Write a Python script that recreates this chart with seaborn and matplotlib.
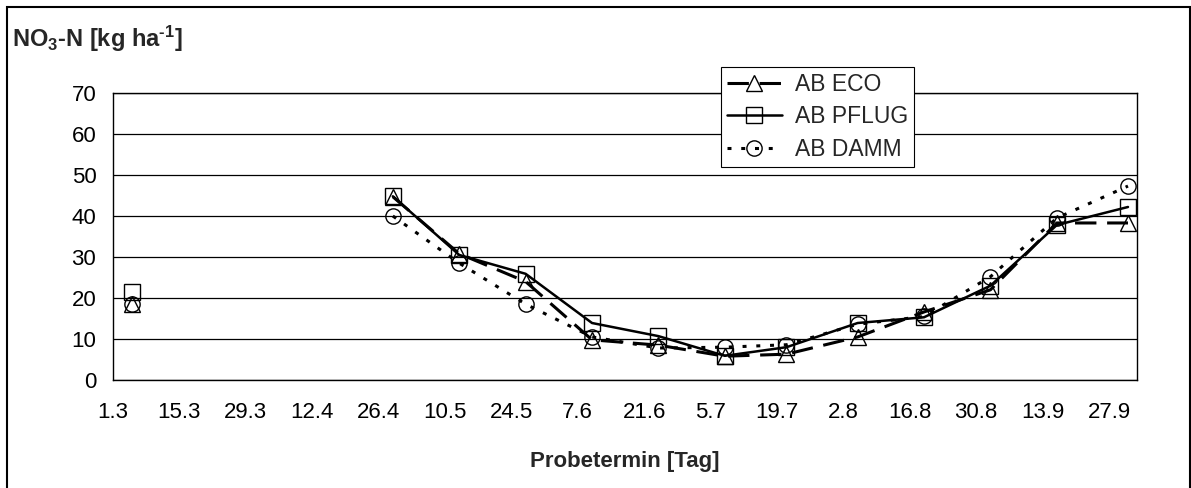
import pandas as pd
import matplotlib
matplotlib.use("Agg")
import matplotlib.pyplot as plt
from matplotlib.lines import Line2D
from matplotlib.patches import Rectangle
import seaborn as sns

# --- data ---
YEAR = 2002
sample_dates = ["5.3", "29.4", "13.5", "27.5", "10.6", "24.6", "8.7",
                "21.7", "5.8", "19.8", "2.9", "16.9", "1.10"]
ab_eco = [18.5, 44.7, 30.8, 24.0, 9.8, 8.5, 5.8, 6.3, 10.5, 16.6, 22.0, 38.3, 38.3]
ab_pflug = [21.5, 44.8, 30.5, 25.9, 13.9, 10.7, 5.9, 8.0, 13.9, 15.3, 23.0, 37.8, 42.2]
ab_damm = [18.6, 40.0, 28.5, 18.5, 10.5, 7.8, 8.0, 8.6, 13.6, 15.5, 25.2, 39.5, 47.3]
tick_labels = ["1.3", "15.3", "29.3", "12.4", "26.4", "10.5", "24.5", "7.6",
               "21.6", "5.7", "19.7", "2.8", "16.8", "30.8", "13.9", "27.9"]
y_ticks = [0, 10, 20, 30, 40, 50, 60, 70]
series_names = ["AB ECO", "AB PFLUG", "AB DAMM"]


def to_date(s):
    d, m = s.split(".")
    return pd.Timestamp(year=YEAR, month=int(m), day=int(d))


dates = pd.Series([to_date(s) for s in sample_dates])
# a long gap between samples means no line is drawn across it
segment = (dates.diff() > pd.Timedelta(days=20)).cumsum()

frames = []
for name, vals in zip(series_names, [ab_eco, ab_pflug, ab_damm]):
    frames.append(pd.DataFrame({"date": dates, "value": vals,
                                "series": name, "segment": segment}))
df = pd.concat(frames, ignore_index=True)

styles = {
    "AB ECO": dict(linestyle=(0, (7, 3.5)), lw=2.2, marker="^"),
    "AB PFLUG": dict(linestyle="-", lw=1.8, marker="s"),
    "AB DAMM": dict(linestyle=(0, (1.3, 3.2)), lw=2.2, marker="o"),
}
marker_kws = dict(markersize=11, markerfacecolor="none",
                  markeredgecolor="black", markeredgewidth=1.0)

sns.set_style("white")
plt.rcParams["font.family"] = ["Liberation Sans", "DejaVu Sans"]
plt.rcParams["mathtext.fontset"] = "custom"
plt.rcParams["mathtext.rm"] = "Liberation Sans:bold"
plt.rcParams["mathtext.it"] = "Liberation Sans:bold"
plt.rcParams["mathtext.bf"] = "Liberation Sans:bold"
plt.rcParams["mathtext.default"] = "rm"

W, H = 1191, 488
fig = plt.figure(figsize=(W / 100, H / 100), dpi=100)
ax = fig.add_axes([113 / W, 1 - 380 / H, (1137 - 113) / W, (380 - 93) / H])

for name in series_names:
    sub = df[df["series"] == name]
    sns.lineplot(data=sub, x="date", y="value", units="segment", estimator=None,
                 color="black", ax=ax, **styles[name], **marker_kws)

tick_dates = [to_date(s) for s in tick_labels]
ax.set_xlim(tick_dates[0], tick_dates[-1] + pd.Timedelta(days=5.9))
ax.set_ylim(y_ticks[0], y_ticks[-1])
ax.set_xticks(tick_dates)
ax.set_xticklabels(tick_labels)
ax.set_yticks(y_ticks)
ax.tick_params(axis="both", direction="out", length=4, width=0.8,
               colors="black", labelsize=16)
ax.tick_params(axis="x", pad=12)
ax.tick_params(axis="y", pad=8)
ax.yaxis.grid(True, color="black", lw=0.9)
ax.xaxis.grid(False)
for sp in ax.spines.values():
    sp.set_color("black")
    sp.set_linewidth(1.0)

ax.set_ylabel("")
ax.set_xlabel("Probetermin [Tag]", fontsize=16, fontweight="bold", labelpad=20)

fig.text(12 / W, 1 - 47 / H, r"NO$_3$-N [kg ha$^{\text{-}1}$]", fontsize=17,
         fontweight="bold", va="baseline", ha="left")

handles = [Line2D([], [], color="black", **styles[n], **marker_kws) for n in series_names]
leg = fig.legend(handles, series_names, loc="upper left",
                 bbox_to_anchor=(721 / W, 1 - 67 / H), bbox_transform=fig.transFigure,
                 frameon=True, fancybox=False, framealpha=1, edgecolor="black",
                 fontsize=16.5, handlelength=2.4, handletextpad=0.6, borderpad=0.25,
                 labelspacing=0.42, borderaxespad=0, numpoints=1)
leg.get_frame().set_linewidth(0.8)

# outer chart frame
fig.patches.append(Rectangle((7 / W, -0.05), (1190 - 7) / W, 1.05 - 7 / H,
                             transform=fig.transFigure, fill=False,
                             edgecolor="black", lw=1.5))

fig.savefig("out.png", dpi=100)
